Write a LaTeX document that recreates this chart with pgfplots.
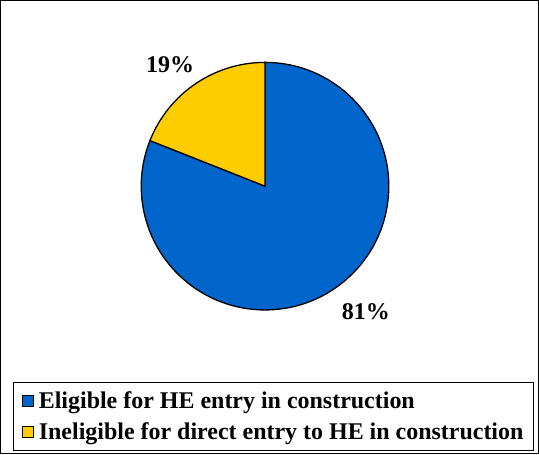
\documentclass[border=0pt]{standalone}
\usepackage{pgfplots}
\pgfplotsset{compat=1.18}
\usepackage{pgfplotstable}
\usepackage{fontspec}
\setmainfont{Liberation Serif}
\definecolor{pieblue}{HTML}{0066CC}
\definecolor{pieyellow}{HTML}{FFCC00}

% shares of the pie, in per cent
\pgfplotstableread{
share
81
19
}\piedata

\begin{document}
\begin{tikzpicture}
\pgfplotstablegetelem{0}{share}\of\piedata \let\va\pgfplotsretval
\pgfplotstablegetelem{1}{share}\of\piedata \let\vb\pgfplotsretval
\pgfmathsetmacro{\aend}{90-3.6*\va}
\pgfmathsetmacro{\astart}{\aend+360}
\begin{axis}[
    x=1pt, y=1pt,
    xmin=0, xmax=539, ymin=0, ymax=454,
    y dir=reverse,
    axis lines=box, ticks=none,
    axis line style={line width=1pt},
    clip=false,
    legend image code/.code={\draw[#1, draw=black, line width=0.8pt] (0pt,-5.5pt) rectangle (11pt,5.5pt);
        \path (14pt,0pt);},
    legend cell align=left,
    legend style={at={(axis cs:13,451)}, anchor=south west, draw=black, line width=1pt,
        font=\fontsize{24}{27}\selectfont\bfseries, inner xsep=8pt, inner ysep=7pt,
        row sep=9pt, /tikz/every even column/.append style={column sep=5pt}},
]
\addlegendimage{fill=pieblue}
\addlegendentry{Eligible for HE entry in construction}
\addlegendimage{fill=pieyellow}
\addlegendentry{Ineligible for direct entry to HE in construction}

\filldraw[fill=pieblue, draw=black, line width=1.3pt]
    (axis cs:265,186) -- ++(90:124pt) arc[start angle=90, end angle=\aend, radius=124pt] -- cycle;
\filldraw[fill=pieyellow, draw=black, line width=1.3pt]
    (axis cs:265,186) -- ++(\astart:124pt) arc[start angle=\astart, end angle=90, radius=124pt] -- cycle;

\node[font=\fontsize{24}{27}\selectfont\bfseries] at (axis cs:170,64) {\vb\%};
\node[font=\fontsize{24}{27}\selectfont\bfseries] at (axis cs:366,312) {\va\%};
\end{axis}
\end{tikzpicture}
\end{document}
